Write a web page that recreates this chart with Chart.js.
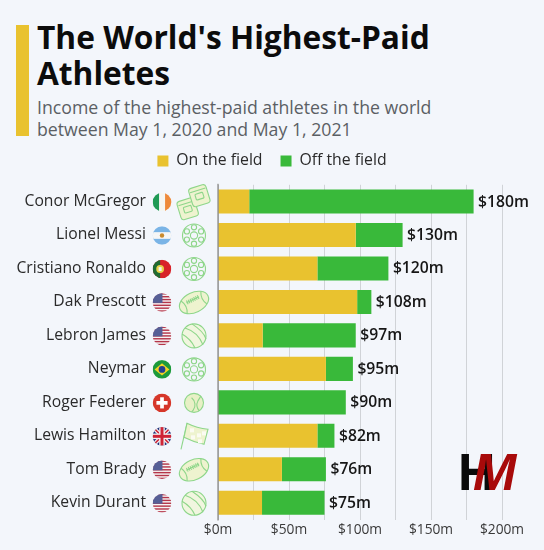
<!DOCTYPE html>
<html><head><meta charset="utf-8">
<style>
html,body{margin:0;padding:0;background:#f3f6fb;width:544px;height:550px;overflow:hidden;font-family:"Open Sans",sans-serif}
#wrap{position:relative;width:544px;height:550px}
canvas{position:absolute;left:0;top:0}
#bar{position:absolute;left:16px;top:25px;width:13px;height:111px;background:#e9c22f}
h1{position:absolute;left:37px;top:19px;margin:0;font-size:31.7px;line-height:35.5px;font-weight:700;color:#0c0c0c;white-space:nowrap}
#sub{position:absolute;left:37px;top:97px;font-size:17.7px;line-height:21.5px;color:#5b5f64;white-space:nowrap}
#hm{position:absolute;left:458px;top:446px;width:70px;height:46px}
#hm span{position:absolute;top:-6px;font-family:"Liberation Sans",sans-serif;font-size:52px;line-height:64px;font-weight:700}
</style></head><body>
<div id="wrap">
<div id="bar"></div>
<h1>The World's Highest-Paid<br>Athletes</h1>
<div id="sub">Income of the highest-paid athletes in the world<br>between May 1, 2020 and May 1, 2021</div>
<canvas id="c" width="544" height="550"></canvas>
<div id="hm"><span style="left:0;color:#0a0a0a">H</span><span style="left:15px;color:#a80a0a;font-style:italic">M</span></div>
</div>
<script src="https://cdn.jsdelivr.net/npm/chart.js@4"></script>
<script>
const athletes=["Conor McGregor","Lionel Messi","Cristiano Ronaldo","Dak Prescott","Lebron James","Neymar","Roger Federer","Lewis Hamilton","Tom Brady","Kevin Durant"];
const onField=[22,97,70,98,31.5,76,0.3,70,45,31];
const offField=[158,33,50,10,65.5,19,89.7,12,31,44];
const totals=["$180m","$130m","$120m","$108m","$97m","$95m","$90m","$82m","$76m","$75m"];
const flags=["ie","ar","pt","us","us","br","ch","gb","us","us"];
const sports=["glove","soccer","soccer","football","basket","soccer","tennis","flag","football","basket"];
const YEL="#e9c22f",GRN="#39b93a",LINE="#8ed68a",PALE="#eef3cf";

function drawFlag(g,kind,x,y,r){
  g.save();g.beginPath();g.arc(x,y,r,0,Math.PI*2);g.clip();
  const R=(c,a,b,w,h)=>{g.fillStyle=c;g.fillRect(a,b,w,h)};
  if(kind==="ie"){R("#1f9a55",x-r,y-r,r*.7,2*r);R("#f6f6f2",x-r*.3,y-r,r*.65,2*r);R("#ee8a3a",x+r*.33,y-r,r,2*r);}
  else if(kind==="ar"){R("#7ab4e6",x-r,y-r,2*r,2*r);R("#f6f6f6",x-r,y-r*.36,2*r,r*.72);g.fillStyle="#c98a2e";g.beginPath();g.arc(x,y,r*.24,0,7);g.fill();}
  else if(kind==="pt"){R("#d8232a",x-r,y-r,2*r,2*r);R("#1f6b32",x-r,y-r,r*.8,2*r);g.fillStyle="#e9d24a";g.beginPath();g.arc(x-r*.2,y,r*.42,0,7);g.fill();g.fillStyle="#f3f3f3";g.fillRect(x-r*.36,y-r*.2,r*.32,r*.42);}
  else if(kind==="us"){R("#f5f5f5",x-r,y-r,2*r,2*r);for(let i=0;i<7;i++)R("#b5364a",x-r,y-r+i*2*r/6.5,2*r,r/6.5);R("#565f96",x-r,y-r,r*1.05,r*1.05);}
  else if(kind==="br"){R("#1c9a3b",x-r,y-r,2*r,2*r);g.fillStyle="#f3d324";g.beginPath();g.moveTo(x-r*.8,y);g.lineTo(x,y-r*.65);g.lineTo(x+r*.8,y);g.lineTo(x,y+r*.65);g.fill();g.fillStyle="#23408f";g.beginPath();g.arc(x,y,r*.36,0,7);g.fill();}
  else if(kind==="ch"){R("#d6372a",x-r,y-r,2*r,2*r);R("#fff",x-r*.2,y-r*.6,r*.4,r*1.2);R("#fff",x-r*.6,y-r*.2,r*1.2,r*.4);}
  else if(kind==="gb"){R("#1f2f78",x-r,y-r,2*r,2*r);g.strokeStyle="#f2f2f2";g.lineWidth=r*.42;g.beginPath();g.moveTo(x-r,y-r);g.lineTo(x+r,y+r);g.moveTo(x+r,y-r);g.lineTo(x-r,y+r);g.stroke();g.strokeStyle="#cf2436";g.lineWidth=r*.16;g.stroke();R("#f2f2f2",x-r*.3,y-r,r*.6,2*r);R("#f2f2f2",x-r,y-r*.3,2*r,r*.6);R("#cf2436",x-r*.16,y-r,r*.32,2*r);R("#cf2436",x-r,y-r*.16,2*r,r*.32);}
  g.restore();
}
function drawSport(g,kind,x,y){
  g.save();g.translate(x,y);g.lineWidth=1.1;g.strokeStyle=LINE;g.fillStyle=PALE;
  const C=(a,b,r,fill)=>{g.beginPath();g.arc(a,b,r,0,Math.PI*2);if(fill)g.fill();g.stroke();};
  if(kind==="soccer"){C(0,0,11.5);C(0,0,3.6);for(let i=0;i<6;i++){const t=i*Math.PI/3+Math.PI/6;C(Math.cos(t)*8.2,Math.sin(t)*8.2,2.6);}}
  else if(kind==="basket"){g.fillStyle="#f1f6df";C(0,0,12,true);g.beginPath();g.moveTo(-9,-8);g.quadraticCurveTo(4,-4,9,9);g.moveTo(-2,-12);g.quadraticCurveTo(10,-4,12,3);g.moveTo(-12,-2);g.quadraticCurveTo(-3,3,1,12);g.stroke();}
  else if(kind==="football"){g.rotate(-0.45);g.beginPath();g.ellipse(0,0,15.5,10,0,0,Math.PI*2);g.fill();g.stroke();g.beginPath();g.moveTo(-7,-3);g.lineTo(7,-3);for(let i=-6;i<=6;i+=2){g.moveTo(i,-5);g.lineTo(i,-1);}g.moveTo(-11,-7);g.quadraticCurveTo(-7,0,-11,7);g.moveTo(11,-7);g.quadraticCurveTo(7,0,11,7);g.stroke();}
  else if(kind==="tennis"){g.fillStyle="#e8f0c6";C(0,0,9.5,true);g.beginPath();g.arc(-8,2,9,-0.9,0.9);g.moveTo(7,-7);g.arc(12,2,9,3.6,2.4,true);g.stroke();}
  else if(kind==="flag"){g.beginPath();g.moveTo(-13,13);g.lineTo(-7,-13);g.stroke();g.beginPath();g.moveTo(-7,-13);g.quadraticCurveTo(3,-8,14,-7);g.lineTo(10,8);g.quadraticCurveTo(0,6,-10,1);g.closePath();g.fill();g.stroke();g.fillStyle="#fbfbf2";for(const[a,b]of[[-4,-8],[3,-3],[8,-5],[-3,-1],[4,3]])g.fillRect(a,b,4,4);}
  else if(kind==="glove"){g.rotate(-0.3);for(const[a,b]of[[-8,4],[7,-5]]){g.beginPath();g.roundRect(a-9,b-9,18,19,3);g.fill();g.stroke();g.beginPath();g.roundRect(a-4,b-2,8,6,1);g.moveTo(a-8,b-5);g.lineTo(a+8,b-5);g.stroke();}}
  g.restore();
}
const decor={id:"decor",
  beforeLayout(ch){
    const L=ch.legend;
    if(L&&!L._fitWrapped){const f=L.fit;L.fit=function(){f.call(this);this.height+=6;};L._fitWrapped=true;}
  },
  afterLayout(ch){const L=ch.legend;if(L){L.left=0;L.right=544;L.width=544;}},
  afterDraw(ch){
    const g=ch.ctx,y=ch.scales.y,x=ch.scales.x,a=ch.chartArea;
    g.save();
    g.strokeStyle="#6f6f6a";g.lineWidth=1;g.beginPath();g.moveTo(a.left,a.top-1);g.lineTo(a.left,a.bottom+1);g.stroke();
    athletes.forEach((n,i)=>{
      const py=y.getPixelForValue(i);
      drawFlag(g,flags[i],162,py+.5,9.3);
      drawSport(g,sports[i],194,py+.5);
      g.fillStyle="#161616";g.font='600 15.7px "Open Sans"';g.textAlign="left";g.textBaseline="middle";
      g.fillText(totals[i],x.getPixelForValue(onField[i]+offField[i])+4.5,py+0.5);
    });
    g.restore();
  }};
Chart.defaults.font.family='"Open Sans"';
new Chart(document.getElementById("c"),{
  type:"bar",
  data:{labels:athletes,datasets:[
    {label:"On the field",data:onField,backgroundColor:YEL,stack:"a",barPercentage:.72,categoryPercentage:1},
    {label:"Off the field",data:offField,backgroundColor:GRN,stack:"a",barPercentage:.72,categoryPercentage:1}]},
  plugins:[decor],
  options:{indexAxis:"y",responsive:false,animation:false,
    layout:{padding:{top:135,right:42,bottom:6.5,left:0}},
    plugins:{tooltip:{enabled:false},
      legend:{position:"top",align:"center",labels:{boxWidth:11,boxHeight:11,padding:18,color:"#2a2a2a",font:{size:15.8}}}},
    scales:{
      x:{stacked:true,min:0,max:200,
        afterFit(s){s.height=24;},
        ticks:{stepSize:25,maxRotation:0,autoSkip:false,color:"#3a3a3a",font:{size:13.75},padding:2,
          callback:v=>v%50===0?"$"+v+"m":""},
        grid:{color:"#d0d3d7",drawTicks:true,tickLength:0},border:{display:false}},
      y:{stacked:true,
        afterFit(s){s.width=218;s.paddingTop=0;s.paddingBottom=0;},
        ticks:{color:"#2a2a2a",font:{size:15.7},padding:64,autoSkip:false},
        grid:{display:false},border:{display:false}}
    }}
});
</script>
</body></html>
